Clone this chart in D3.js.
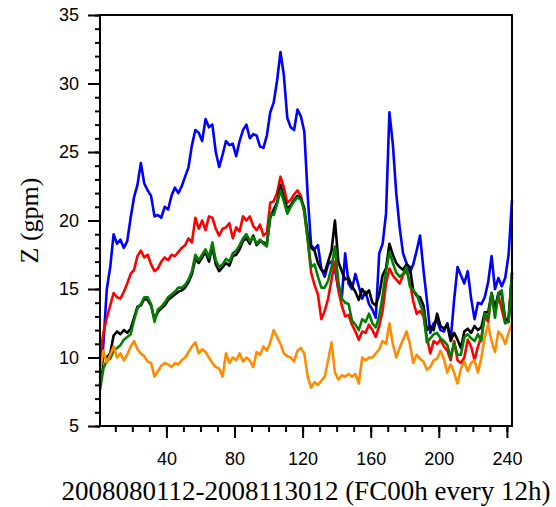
<!DOCTYPE html>
<html>
<head>
<meta charset="utf-8">
<script src="https://cdn.jsdelivr.net/npm/d3@7"></script>
<style>
body { margin: 0; background: #fff; }
.tick text { font-family: "Liberation Sans", Arial, sans-serif; font-size: 18px; fill: #000; }
</style>
</head>
<body>
<div id="chart"></div>
<script>
// forecast index (every other 12h step)
var steps = d3.range(1, 244, 2);

var blue = [8.0, 11.0, 15.0, 16.6, 19.0, 18.3, 18.6, 18.0, 18.5, 20.2,
    21.7, 22.6, 24.2, 22.7, 22.2, 21.8, 20.3, 20.4, 20.2, 21.0,
    20.8, 21.8, 22.4, 22.0, 22.5, 23.2, 23.9, 25.5, 26.6, 26.4,
    25.8, 27.4, 26.8, 27.0, 25.0, 23.9, 24.8, 25.8, 25.5, 25.6,
    24.7, 25.8, 26.6, 27.0, 26.0, 26.3, 26.2, 25.4, 25.3, 26.2,
    27.9, 28.6, 30.2, 32.3, 30.6, 27.5, 26.8, 26.6, 28.1, 27.6,
    26.5, 21.8, 18.2, 17.9, 18.2, 16.5, 15.9, 16.8, 17.0, 16.4,
    15.0, 14.3, 17.6, 15.4, 15.0, 16.1, 15.2, 14.3, 14.8, 13.9,
    13.5, 12.9, 17.6, 18.3, 20.5, 27.9, 25.6, 22.0, 19.5, 17.6,
    16.9, 16.2, 16.8, 17.8, 18.9, 16.4, 14.2, 11.8, 12.5, 12.7,
    12.0, 11.9, 12.5, 11.3, 14.2, 16.6, 16.0, 15.4, 16.3, 14.3,
    12.8, 14.0, 13.9, 14.4, 15.5, 17.4, 15.0, 15.8, 15.2, 15.8,
    17.5, 21.5];

var red = [10.0, 11.8, 12.9, 13.8, 14.7, 14.4, 14.3, 14.8, 15.4, 16.1,
    16.4, 17.4, 17.8, 17.3, 17.5, 16.8, 16.3, 16.5, 17.0, 17.3,
    17.1, 17.5, 17.4, 17.7, 18.0, 18.2, 18.7, 18.4, 20.2, 19.4,
    20.0, 19.3, 20.3, 20.2, 19.4, 18.9, 19.4, 19.5, 19.8, 18.7,
    19.5, 19.2, 20.3, 20.0, 20.3, 19.6, 19.3, 19.7, 18.9, 19.1,
    21.3, 21.4, 22.0, 23.2, 22.4, 21.3, 21.5, 21.9, 22.2, 21.8,
    20.6, 18.6, 16.2, 15.3, 14.6, 12.8, 13.4, 14.3, 15.7, 17.0,
    14.9, 13.8, 13.0, 13.1, 12.4, 11.9, 11.3, 11.9, 11.8, 12.4,
    12.0, 11.5, 12.3, 13.4, 15.4, 16.5, 16.0, 15.7, 15.4, 16.0,
    16.4, 15.5, 14.1, 13.2, 13.4, 13.0, 11.5, 10.3, 11.2, 11.0,
    11.3, 10.8, 10.5, 9.8, 11.2, 9.8, 9.6, 10.0, 11.3, 10.8,
    9.8, 10.8, 11.5, 13.0, 12.6, 14.7, 13.2, 14.5, 13.5, 12.5,
    13.0, 15.9];

var black = [8.5, 10.2, 10.0, 10.3, 11.6, 11.9, 11.7, 12.0, 11.8, 12.1,
    12.9, 13.7, 13.8, 14.3, 14.2, 13.8, 12.8, 13.3, 13.6, 13.8,
    14.2, 14.4, 14.6, 14.8, 14.9, 15.1, 15.5, 16.1, 17.2, 16.9,
    17.3, 17.7, 17.0, 18.1, 16.8, 16.3, 16.6, 16.9, 16.7, 17.4,
    17.5, 17.9, 18.5, 18.7, 18.3, 18.9, 18.2, 18.5, 18.4, 18.3,
    20.2, 20.8, 21.3, 22.6, 21.6, 20.9, 21.1, 21.5, 21.8, 21.6,
    20.9, 19.0, 18.0, 17.8, 16.9, 16.4, 16.2, 17.0, 17.8, 20.0,
    17.0, 16.3, 15.7, 15.8, 15.2, 14.8, 14.2, 15.0, 14.6, 14.9,
    14.0, 13.8, 14.6, 16.0, 16.5, 18.3, 17.5, 16.9, 16.6, 16.4,
    16.8, 16.6, 14.9, 14.5, 14.4, 13.8, 12.0, 12.3, 12.0, 13.2,
    12.3, 12.1, 12.4, 11.2, 11.8, 11.3, 10.7, 11.9, 12.1, 11.8,
    12.3, 12.0, 12.2, 13.3, 13.3, 14.7, 13.6, 14.7, 14.6, 12.8,
    12.6, 16.2];

var green = [7.6, 9.2, 9.8, 9.9, 10.5, 10.7, 10.9, 11.3, 11.5, 11.7,
    12.7, 13.6, 13.9, 14.4, 14.4, 13.9, 12.6, 13.5, 13.7, 14.0,
    14.4, 14.6, 14.8, 15.1, 15.1, 15.3, 15.7, 16.3, 17.5, 17.1,
    17.5, 17.9, 17.3, 18.4, 17.1, 16.6, 16.8, 17.2, 17.0, 17.6,
    17.8, 18.2, 18.7, 19.0, 18.5, 18.8, 18.3, 18.6, 18.3, 18.1,
    20.5, 20.4, 21.2, 22.2, 21.4, 20.5, 21.0, 21.4, 21.7, 21.5,
    20.7, 18.6, 16.6, 16.8, 15.9, 15.1, 15.1, 15.6, 16.6, 18.1,
    15.5, 14.3, 14.0, 13.9, 12.7, 12.4, 12.0, 12.8, 12.6, 13.2,
    12.5, 12.2, 13.0, 14.5, 16.3, 17.7, 16.9, 16.2, 15.9, 16.1,
    16.6, 15.2, 14.9, 14.6, 13.9, 13.3, 11.1, 11.4, 11.7, 11.8,
    11.4, 11.2, 10.9, 10.0, 11.1, 10.2, 10.2, 11.5, 11.7, 11.4,
    11.2, 11.7, 11.2, 13.2, 12.9, 14.7, 12.9, 14.7, 14.9, 12.5,
    12.6, 16.2];

var orange = [9.0, 10.5, 9.6, 10.2, 10.8, 10.0, 10.3, 9.8, 10.2, 10.8,
    11.2, 10.6, 10.3, 10.1, 9.7, 9.6, 8.6, 9.0, 9.4, 9.6,
    9.5, 9.3, 9.6, 9.5, 9.8, 10.0, 10.4, 10.8, 11.1, 10.3,
    10.6, 10.4, 10.0, 9.6, 9.3, 9.2, 8.6, 10.3, 9.6, 10.0,
    9.8, 10.3, 9.7, 10.0, 9.8, 9.3, 10.4, 10.2, 10.8, 10.5,
    11.1, 12.0, 11.5, 11.0, 10.3, 10.1, 10.0, 9.7, 10.5, 10.7,
    10.3, 8.6, 7.8, 8.2, 8.0, 8.3, 8.6, 9.8, 11.1, 8.9,
    8.4, 8.7, 8.6, 8.8, 8.6, 8.8, 8.1, 10.0, 9.8, 10.0,
    10.0, 10.3, 10.6, 11.2, 11.0, 12.5, 11.0, 10.0, 10.7, 11.3,
    11.9, 11.0, 9.6, 10.2, 9.9, 9.7, 9.1, 9.3, 9.8, 9.9,
    10.5, 9.9, 8.9, 9.5, 8.9, 8.1, 9.2, 9.7, 9.0, 9.6,
    9.8, 8.9, 10.0, 11.5, 12.4, 11.2, 10.4, 11.9, 11.6, 11.0,
    11.8, 12.5];

var yticks = [5, 10, 15, 20, 25, 30, 35];
var xticks = [40, 80, 120, 160, 200, 240];
var xtitle = "2008080112-2008113012 (FC00h every 12h)";
var ytitle = "Z (gpm)";

var series = [
    {vals: blue, color: "#0000ff"},
    {vals: red, color: "#ff0000"},
    {vals: black, color: "#000000"},
    {vals: green, color: "#008000"},
    {vals: orange, color: "#ff8c00"}
];

var margin = {top: 15, right: 44, bottom: 81, left: 100};
var width = 556 - margin.left - margin.right;
var height = 507 - margin.top - margin.bottom;

var x = d3.scaleLinear().domain([1, 243]).range([0, width]);
var y = d3.scaleLinear().domain([5, 35]).range([height, 0]);

var svg = d3.select("#chart")
    .append("svg")
    .attr("width", 556)
    .attr("height", 507)
    .append("g")
    .attr("transform", "translate(" + margin.left + "," + margin.top + ")");

// minor ticks
svg.append("g")
    .attr("class", "yminor")
    .call(d3.axisLeft(y).tickValues(d3.range(5, 36, 1)).tickSize(5).tickFormat(""));
svg.append("g")
    .attr("class", "xminor")
    .attr("transform", "translate(0," + height + ")")
    .call(d3.axisBottom(x).tickValues(d3.range(10, 241, 10)).tickSize(6).tickFormat(""));

// major ticks
svg.append("g")
    .attr("class", "yaxis")
    .call(d3.axisLeft(y).tickValues(yticks).tickSize(12).tickPadding(9));
svg.append("g")
    .attr("class", "xaxis")
    .attr("transform", "translate(0," + height + ")")
    .call(d3.axisBottom(x).tickValues(xticks).tickSize(12).tickPadding(14));

svg.selectAll(".domain").remove();
svg.selectAll(".tick line").attr("stroke", "#000").attr("stroke-width", 2);

var valueline = d3.line()
    .x(function (d, i) { return x(steps[i]); })
    .y(function (d) { return y(d); });

svg.append("g").selectAll("path.line")
    .data(series)
    .enter().append("path")
    .attr("class", "line")
    .attr("d", function (d) { return valueline(d.vals); })
    .attr("fill", "none")
    .attr("stroke", function (d) { return d.color; })
    .attr("stroke-width", 2.6)
    .attr("stroke-linejoin", "round");

// frame
svg.append("rect")
    .attr("width", width)
    .attr("height", height)
    .attr("fill", "none")
    .attr("stroke", "#000")
    .attr("stroke-width", 2);

svg.append("text")
    .attr("x", width / 2)
    .attr("y", height + 74)
    .style("text-anchor", "middle")
    .style("font-family", "'Liberation Serif', 'Times New Roman', serif")
    .style("font-size", "27px")
    .text(xtitle);

svg.append("text")
    .attr("x", 0 - y(20))
    .attr("y", -margin.left + 38)
    .attr("transform", "rotate(-90)")
    .style("text-anchor", "middle")
    .style("font-family", "'Liberation Serif', 'Times New Roman', serif")
    .style("font-size", "26px")
    .text(ytitle);
</script>
</body>
</html>
